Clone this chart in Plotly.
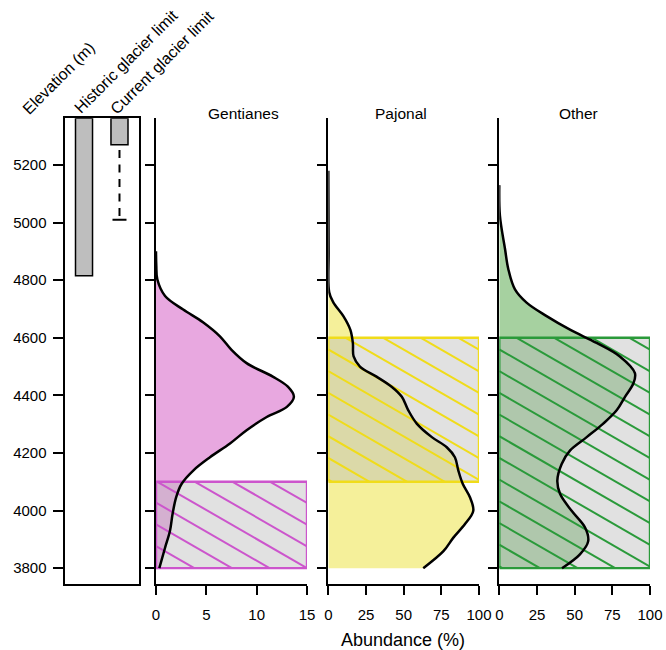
import math
import plotly.graph_objects as go

W, H = 666, 650
FONT = "Liberation Sans, Arial, Helvetica, sans-serif"

# ---------------- data ----------------
elev_ticks = [3800, 4000, 4200, 4400, 4600, 4800, 5000, 5200]
y_range = [3744, 5362]

glacier_cols = ["Historic glacier limit", "Current glacier limit"]
glacier_limit = [4815, 5270]
projection_top = 5252
projection_low = 5010

taxa = ["Gentianes", "Pajonal", "Other"]
x_max = [15, 100, 100]
x_ticks = [[0, 5, 10, 15], [0, 25, 50, 75, 100], [0, 25, 50, 75, 100]]

gent_elev = [4900, 4850, 4803, 4745, 4698, 4653, 4605, 4558, 4512, 4465, 4430, 4395,
             4360, 4325, 4279, 4233, 4185, 4139, 4093, 4046, 3989, 3930, 3871, 3800]
gent_abund = [0, 0.03, 0.13, 0.9, 2.7, 4.7, 6.35, 7.5, 9.0, 11.6, 13.1, 13.7,
              13.0, 11.0, 9.0, 7.35, 5.36, 3.7, 2.55, 2.0, 1.65, 1.39, 0.9, 0.33]

paj_elev = [5180, 4900, 4758, 4723, 4675, 4628, 4582, 4535, 4500, 4465, 4430, 4395,
            4349, 4302, 4255, 4220, 4185, 4139, 4093, 4046, 3999, 3953, 3906, 3859, 3800]
paj_abund = [0, 0.2, 0.6, 3.3, 10, 14.6, 16.3, 16.8, 21, 32, 42, 48.8,
             53, 58.7, 68.7, 78.6, 84, 86.3, 89.2, 94, 96.2, 90.7, 83, 76.4, 63]

oth_elev = [5130, 5024, 4908, 4838, 4768, 4722, 4675, 4628, 4582, 4535, 4477, 4442,
            4395, 4349, 4302, 4255, 4209, 4162, 4104, 4058, 3999, 3941, 3894, 3848, 3800]
oth_abund = [0, 0.4, 3.8, 6, 10.4, 18.1, 31.4, 46.9, 64.6, 80, 90, 89,
             83.4, 78, 69, 58, 47, 41.4, 38.5, 40.3, 48, 56.9, 59, 53.5, 41.6]

curves_elev = [gent_elev, paj_elev, oth_elev]
curves_abund = [gent_abund, paj_abund, oth_abund]

zone_low = [3800, 4100, 3800]
zone_high = [4100, 4600, 4600]

fill_colors = ["#e8a8e0", "#f5f09a", "#a6d1a0"]
hatch_colors = ["#cc55cc", "#f0dc1a", "#2a9a3a"]
hatch_offset_px = [1.4, 17.4, 17.4]   # where the first hatch line meets the top edge

# ---------------- layout geometry (pixels) ----------------
Y_TOP, Y_BOT = 118.3, 584.3
left_px = [64.5, 139.0]
panel_px = [[156.0, 307.0], [328.3, 479.0], [499.3, 650.0]]

def dom_x(p):
    return [p[0] / W, p[1] / W]

y_dom = [(H - Y_BOT) / H, (H - Y_TOP) / H]

fig = go.Figure()

# ---- left panel: glacier limits ----
fig.add_trace(go.Bar(
    x=glacier_cols, y=[y_range[1] - v for v in glacier_limit], base=glacier_limit,
    width=0.48, marker=dict(color="#bebebe", line=dict(color="black", width=1.5)),
    xaxis="x", yaxis="y", showlegend=False, hoverinfo="skip"))
fig.add_trace(go.Scatter(
    x=[glacier_cols[1], glacier_cols[1]], y=[projection_top, projection_low],
    mode="lines", line=dict(color="black", width=2, dash="8px,6.5px"),
    xaxis="x", yaxis="y", showlegend=False, hoverinfo="skip"))
fig.add_trace(go.Scatter(
    x=[glacier_cols[1]], y=[projection_low], mode="markers",
    marker=dict(symbol="line-ew", size=10, line=dict(color="black", width=2)),
    xaxis="x", yaxis="y", showlegend=False, hoverinfo="skip"))


def hatch(x0, x1, y0, y1, px, xr, offset, spacing=21.7, slope=0.577):
    def xp(v):
        return px[0] + (v - xr[0]) / (xr[1] - xr[0]) * (px[1] - px[0])

    def yp(v):
        return Y_BOT - (v - y_range[0]) / (y_range[1] - y_range[0]) * (Y_BOT - Y_TOP)

    def xd(p):
        return xr[0] + (p - px[0]) / (px[1] - px[0]) * (xr[1] - xr[0])

    def yd(p):
        return y_range[0] + (Y_BOT - p) / (Y_BOT - Y_TOP) * (y_range[1] - y_range[0])

    X0, X1 = xp(x0), xp(x1)
    Yt, Yb = yp(y1), yp(y0)
    c_min = Yt - slope * X1
    c_max = Yb - slope * X0
    c0 = Yt - slope * (X0 + offset)
    kmin = math.floor((c_min - c0) / spacing) - 1
    kmax = math.ceil((c_max - c0) / spacing) + 1
    xs, ys = [], []
    for k in range(kmin, kmax + 1):
        c = c0 + k * spacing
        lo = max(X0, (Yt - c) / slope)
        hi = min(X1, (Yb - c) / slope)
        if hi - lo > 0.5:
            xs += [xd(lo), xd(hi), None]
            ys += [yd(c + slope * lo), yd(c + slope * hi), None]
    return xs, ys


for i in range(3):
    xa = "x%d" % (i + 2)
    ya = "y%d" % (i + 2)
    xr = [0, x_max[i]]
    # density fill
    fig.add_trace(go.Scatter(
        x=curves_abund[i], y=curves_elev[i], mode="lines", fill="tozerox",
        fillcolor=fill_colors[i], line=dict(width=0, shape="spline", color=fill_colors[i]),
        xaxis=xa, yaxis=ya, showlegend=False, hoverinfo="skip"))
    # zone rectangle (grey translucent)
    rx = [0, x_max[i], x_max[i], 0, 0]
    ry = [zone_low[i], zone_low[i], zone_high[i], zone_high[i], zone_low[i]]
    fig.add_trace(go.Scatter(
        x=rx, y=ry, mode="lines", fill="toself", fillcolor="rgba(186,186,186,0.44)",
        line=dict(width=0), xaxis=xa, yaxis=ya, showlegend=False, hoverinfo="skip"))
    hx, hy = hatch(0, x_max[i], zone_low[i], zone_high[i], panel_px[i], xr,
                   hatch_offset_px[i])
    fig.add_trace(go.Scatter(
        x=hx, y=hy, mode="lines", line=dict(color=hatch_colors[i], width=2),
        xaxis=xa, yaxis=ya, showlegend=False, hoverinfo="skip"))
    fig.add_trace(go.Scatter(
        x=rx, y=ry, mode="lines", line=dict(color=hatch_colors[i], width=2.4),
        xaxis=xa, yaxis=ya, showlegend=False, hoverinfo="skip"))
    # density line
    fig.add_trace(go.Scatter(
        x=curves_abund[i], y=curves_elev[i], mode="lines",
        line=dict(color="black", width=2.5, shape="spline"),
        xaxis=xa, yaxis=ya, showlegend=False, hoverinfo="skip"))

axis_common = dict(linecolor="black", linewidth=1.9, showgrid=False, zeroline=False,
                   tickcolor="black", tickwidth=1.9, automargin=False,
                   tickfont=dict(family=FONT, size=15, color="black"))

layout = dict(
    width=W, height=H, autosize=False,
    margin=dict(l=0, r=0, t=0, b=0, pad=0, autoexpand=False),
    paper_bgcolor="white", plot_bgcolor="rgba(0,0,0,0)",
    font=dict(family=FONT, size=15, color="black"),
    showlegend=False,
    xaxis=dict(domain=dom_x(left_px), type="category", range=[-0.55, 1.55],
               showline=True, mirror=True, ticks="", showticklabels=False,
               anchor="y", **axis_common),
    yaxis=dict(domain=y_dom, range=y_range, showline=True, mirror=True,
               ticks="outside", ticklen=10, tickvals=elev_ticks,
               ticklabelstandoff=3, anchor="x", **axis_common),
)
for i in range(3):
    layout["xaxis%d" % (i + 2)] = dict(
        domain=dom_x(panel_px[i]), range=[0, x_max[i]], showline=True,
        ticks="outside", ticklen=9, tickvals=x_ticks[i], anchor="y%d" % (i + 2),
        ticklabelstandoff=7, **axis_common)
    layout["yaxis%d" % (i + 2)] = dict(
        domain=y_dom, range=y_range, showline=True, ticks="outside", ticklen=9,
        tickvals=elev_ticks, showticklabels=False, anchor="x%d" % (i + 2),
        **axis_common)

annotations = []
title_cx = [243.3, 400.8, 578.3]
for i in range(3):
    annotations.append(dict(
        text=taxa[i], x=title_cx[i] / W, y=(H - 113) / H, xref="paper", yref="paper",
        xanchor="center", yanchor="middle", showarrow=False,
        font=dict(family=FONT, size=15.5, color="black")))

rot_labels = ["Elevation (m)"] + glacier_cols
rot_centers = [(58.5, 79), (126, 61.5), (162, 62.5)]
for lab, (cx, cy) in zip(rot_labels, rot_centers):
    annotations.append(dict(
        text=lab, x=cx / W, y=(H - cy) / H, xref="paper", yref="paper",
        xanchor="center", yanchor="middle", textangle=-45, showarrow=False,
        font=dict(family=FONT, size=16, color="black")))

annotations.append(dict(
    text="Abundance (%)", x=403.3 / W, y=(H - 640) / H, xref="paper", yref="paper",
    xanchor="center", yanchor="middle", showarrow=False,
    font=dict(family=FONT, size=18, color="black")))

layout["annotations"] = annotations
fig.update_layout(**layout)

fig.write_html("out.html", config={"displayModeBar": False, "responsive": False},
               post_script="document.body.style.margin='0px';document.body.style.overflow='hidden';")
